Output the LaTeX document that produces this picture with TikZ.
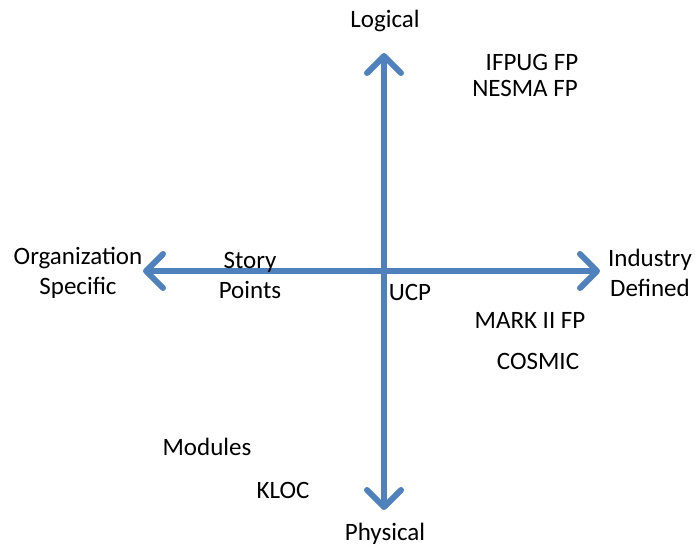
\documentclass[tikz,border=0pt]{standalone}
\usepackage{fontspec}
\setmainfont{Carlito}
\usetikzlibrary{arrows.meta}
\definecolor{axisblue}{HTML}{4F81BD}
\begin{document}
\begin{tikzpicture}[x=1pt,y=-1pt,
  axis/.style={draw=axisblue,line width=6pt,-{Straight Barb[length=17pt,width=34pt,round]}},
  lbl/.style={font=\fontsize{25}{30}\selectfont,align=center,inner sep=0pt}]
\useasboundingbox (0,0) rectangle (695,546);
\coordinate (o) at (384,271);
\coordinate (top) at (384,53);
\coordinate (bot) at (384,510);
\coordinate (lft) at (143,271);
\coordinate (rgt) at (600,271);
\draw[axis] (o) -- (top);
\draw[axis] (o) -- (bot);
\draw[axis] (o) -- (lft);
\draw[axis] (o) -- (rgt);
\node[lbl] (logical) at (385,21) {Logical};
\node[lbl] (physical) at (385,534) {Physical};
\node[lbl] (org) at (78,273) {Organization\\Specific};
\node[lbl] (ind) at (650,273) {Industry\\Defined};
\node[lbl] (story) at (250,275) {Story\\Points};
\node[lbl] (ifpug) at (532,62) {IFPUG FP};
\node[lbl] (nesma) at (525,88) {NESMA FP};
\node[lbl] (ucp) at (410,292) {UCP};
\node[lbl] (mark) at (530,320) {MARK II FP};
\node[lbl] (cosmic) at (538,361) {COSMIC};
\node[lbl] (modules) at (207,447) {Modules};
\node[lbl] (kloc) at (283,490) {KLOC};
\end{tikzpicture}
\end{document}
